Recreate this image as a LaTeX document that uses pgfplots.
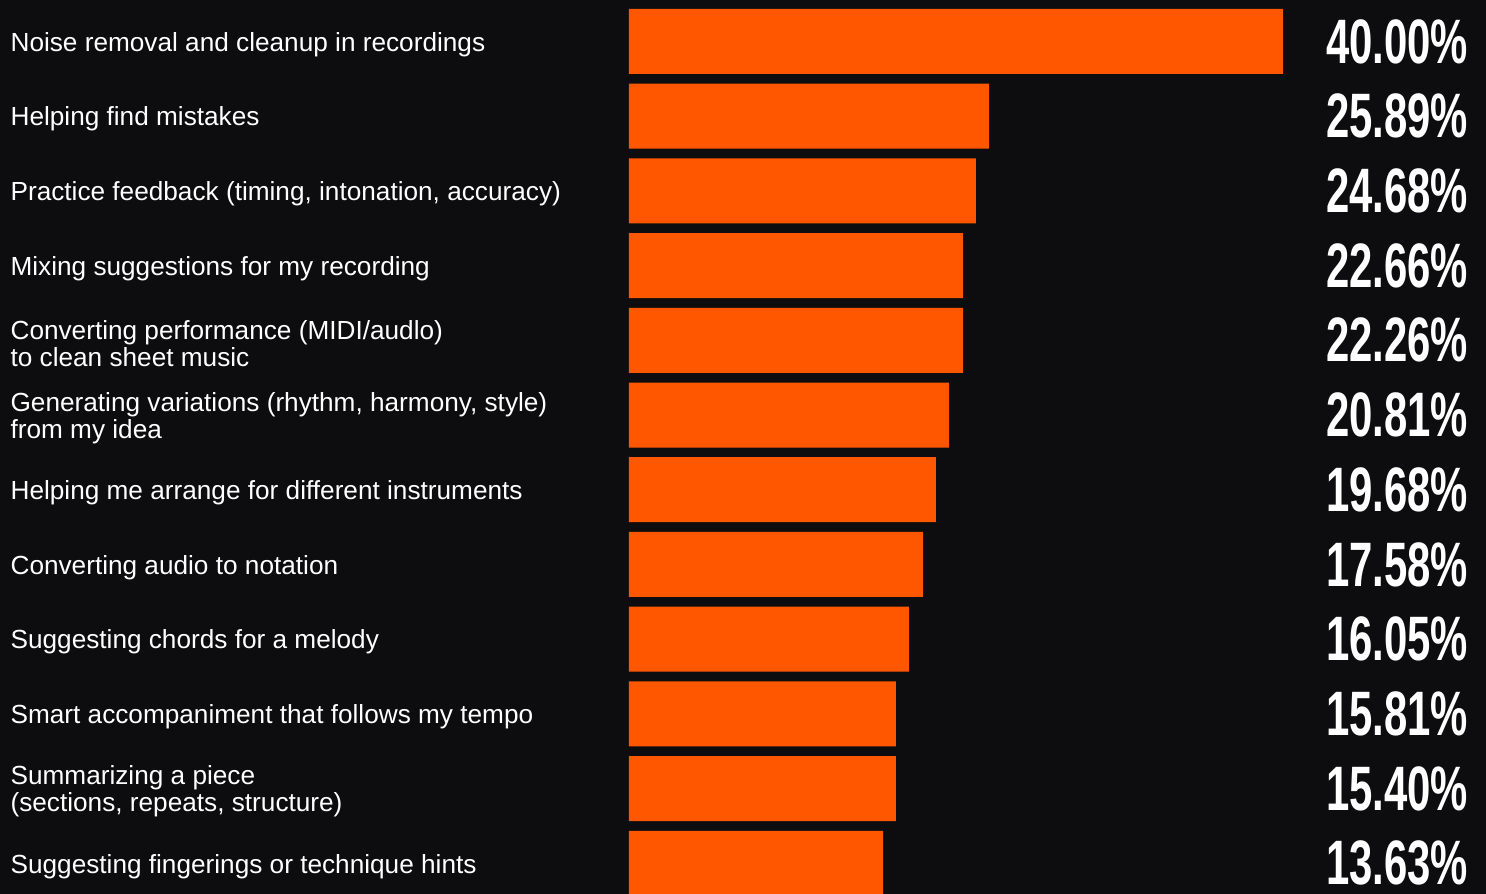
\documentclass[border=0pt]{standalone}
\usepackage{pgfplots}
\pgfplotsset{compat=1.18}
\usepackage{graphicx}
\usepackage{fontspec}
\setmainfont{Liberation Sans}
\definecolor{bg}{HTML}{0D0D0F}
\definecolor{barc}{HTML}{FF5700}

\begin{document}
\begin{tikzpicture}
\begin{axis}[
    width=743pt, height=447pt, scale only axis,
    xmin=-38.47, xmax=52.42,
    ymin=-0.555, ymax=11.408, y dir=reverse,
    axis background/.style={fill=bg},
    axis line style={draw=none},
    xtick=\empty,
    ytick={0,...,11},
    major tick length=0pt,
    yticklabels={
        Noise removal and cleanup in recordings,
        Helping find mistakes,
        {Practice feedback (timing, intonation, accuracy)},
        Mixing suggestions for my recording,
        {Converting performance (MIDI/audlo)\\to clean sheet music},
        {Generating variations (rhythm, harmony, style)\\from my idea},
        Helping me arrange for different instruments,
        Converting audio to notation,
        Suggesting chords for a melody,
        Smart accompaniment that follows my tempo,
        {Summarizing a piece\\(sections, repeats, structure)},
        Suggesting fingerings or technique hints
    },
    yticklabel style={anchor=west, xshift=5pt, yshift=-1.5pt, inner sep=0pt, align=left,
        text=white, font=\fontsize{13.1}{13.5}\selectfont},
]
% bar lengths as drawn (40.00% bar = 654 px)
\addplot[xbar, bar width=0.87, fill=barc, draw=none] coordinates {
    (40.00,0) (22.02,1) (21.22,2) (20.43,3) (20.43,4) (19.57,5)
    (18.78,6) (17.98,7) (17.13,8) (16.33,9) (16.33,10) (15.54,11)
};
% value labels, right aligned
\addplot[draw=none, mark=none,
    point meta=explicit symbolic,
    nodes near coords={\scalebox{0.667}[1]{\pgfplotspointmeta}},
    nodes near coords style={anchor=east, inner sep=0pt, text=white,
        font=\fontsize{31.4}{31.4}\selectfont\bfseries}]
coordinates {
    (51.37,0) [40.00\%]
    (51.37,1) [25.89\%]
    (51.37,2) [24.68\%]
    (51.37,3) [22.66\%]
    (51.37,4) [22.26\%]
    (51.37,5) [20.81\%]
    (51.37,6) [19.68\%]
    (51.37,7) [17.58\%]
    (51.37,8) [16.05\%]
    (51.37,9) [15.81\%]
    (51.37,10) [15.40\%]
    (51.37,11) [13.63\%]
};
\end{axis}
\end{tikzpicture}
\end{document}
